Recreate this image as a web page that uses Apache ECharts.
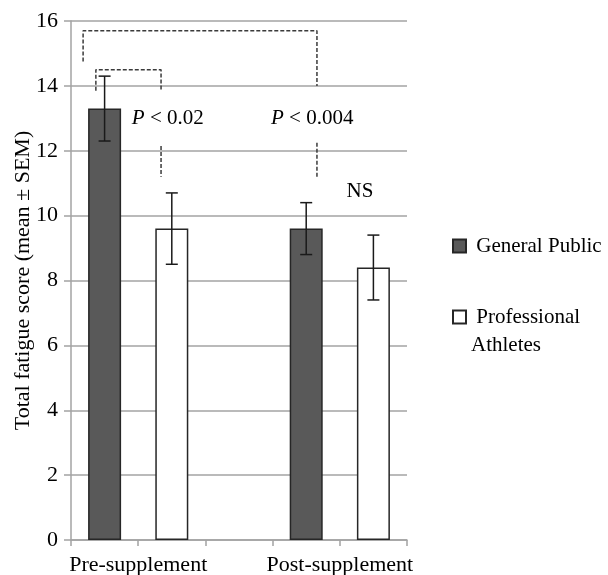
<!DOCTYPE html>
<html>
<head>
<meta charset="utf-8">
<script src="https://cdn.jsdelivr.net/npm/echarts@6/dist/echarts.min.js"></script>
<style>
html,body{margin:0;padding:0;background:#fff;}
#chart{width:608px;height:575px;}
</style>
</head>
<body>
<div id="chart"></div>
<script>
// ---- data ----
const categories = ['Pre-supplement', 'Post-supplement'];
const seriesNames = ['General Public', 'Professional Athletes'];
const generalPublic = [13.3, 9.6];
const generalPublicSEM = [1.0, 0.8];
const athletes = [9.6, 8.4];
const athletesSEM = [1.1, 1.0];
const yTicks = {min: 0, max: 16, interval: 2};
const yTitle = 'Total fatigue score (mean ± SEM)';
// significance brackets (x in slot units, y in score units)
const bracketLines = [
  [[0.18, 14.75], [0.18, 15.7], [3.66, 15.7], [3.66, 14.0]],
  [[0.37, 13.85], [0.37, 14.5], [1.34, 14.5], [1.34, 13.87]],
  [[1.34, 12.15], [1.34, 11.2]],
  [[3.66, 12.25], [3.66, 11.15]]
];
const annotations = [
  {text: '{i|P} < 0.02', x: 1.44, y: 12.98},
  {text: '{i|P} < 0.004', x: 3.59, y: 12.98},
  {text: 'NS', x: 4.3, y: 10.74}
];

// ---- layout: 5 slots (GP, PA, gap, GP, PA) ----
const slotCount = categories.length * 3 - 1;
const slots = Array.from({length: slotCount}, (_, i) => 's' + i);
const gpData = slots.map(() => '-');
const paData = slots.map(() => '-');
const errData = [];
categories.forEach((c, i) => {
  gpData[i * 3] = generalPublic[i];
  paData[i * 3 + 1] = athletes[i];
  errData.push([i * 3, generalPublic[i] - generalPublicSEM[i], generalPublic[i] + generalPublicSEM[i]]);
  errData.push([i * 3 + 1, athletes[i] - athletesSEM[i], athletes[i] + athletesSEM[i]]);
});
const labelAt = {};
categories.forEach((c, i) => { labelAt[i * 3 + 1] = c; });

const FONT = '"Liberation Serif", "Times New Roman", serif';
const gridColor = '#a3a3a3';
const textColor = '#000';

const chart = echarts.init(document.getElementById('chart'));

const bracketSeries = bracketLines.map(pts => ({
  type: 'line',
  xAxisIndex: 1,
  data: pts,
  symbol: 'none',
  silent: true,
  animation: false,
  lineStyle: {color: '#3a3a3a', width: 1.5, type: [4, 2]},
  z: 5
}));

chart.setOption({
  animation: false,
  backgroundColor: '#fff',
  grid: {left: 71, right: 201, top: 21, bottom: 35, containLabel: false, outerBoundsMode: 'none'},
  legend: [
    {
      data: [seriesNames[0]],
      left: 452, top: 232, padding: 0,
      icon: 'rect', itemWidth: 13, itemHeight: 13,
      formatter: n => ' ' + n,
      textStyle: {fontFamily: FONT, fontSize: 21, color: textColor, lineHeight: 28},
      selectedMode: false
    },
    {
      data: [seriesNames[1]],
      left: 452, top: 275, padding: 0,
      icon: 'rect', itemWidth: 13, itemHeight: 13,
      formatter: n => '\n Professional\nAthletes',
      textStyle: {fontFamily: FONT, fontSize: 21, color: textColor, lineHeight: 28},
      selectedMode: false
    }
  ],
  xAxis: [
    {
      type: 'category',
      data: slots,
      position: 'bottom',
      boundaryGap: true,
      axisLine: {lineStyle: {color: gridColor, width: 1.5}},
      axisTick: {show: true, interval: 0, length: 6, lineStyle: {color: gridColor, width: 1.5}},
      axisLabel: {show: false}
    },
    {
      type: 'value',
      min: 0, max: slotCount, interval: 1,
      position: 'bottom',
      axisLine: {show: false},
      axisTick: {show: false},
      splitLine: {show: false},
      axisLabel: {
        margin: 14,
        fontFamily: FONT, fontSize: 22, color: textColor,
        formatter: v => labelAt[v] || ''
      }
    }
  ],
  yAxis: {
    type: 'value',
    min: yTicks.min, max: yTicks.max, interval: yTicks.interval,
    name: yTitle,
    nameLocation: 'middle',
    nameGap: 37,
    nameMoveOverlap: false,
    nameTextStyle: {fontFamily: FONT, fontSize: 22, color: textColor},
    axisLine: {show: true, lineStyle: {color: gridColor, width: 1.5}},
    axisTick: {show: true, length: 7, lineStyle: {color: gridColor, width: 1.5}},
    axisLabel: {margin: 13, fontFamily: FONT, fontSize: 22, color: textColor},
    splitLine: {lineStyle: {color: gridColor, width: 1.5}}
  },
  series: [
    {
      name: seriesNames[0],
      type: 'bar',
      data: gpData,
      barWidth: 33,
      barGap: '-100%',
      itemStyle: {color: '#595959', borderColor: '#262626', borderWidth: 1.5},
      z: 3
    },
    {
      name: seriesNames[1],
      type: 'bar',
      data: paData,
      barWidth: 33,
      barGap: '-100%',
      itemStyle: {color: '#ffffff', borderColor: '#262626', borderWidth: 1.5},
      z: 3
    },
    {
      type: 'custom',
      data: errData,
      silent: true,
      z: 6,
      renderItem: function (params, api) {
        const x = api.value(0);
        const lo = api.coord([x, api.value(1)]);
        const hi = api.coord([x, api.value(2)]);
        const hw = 6;
        const style = {stroke: '#1a1a1a', lineWidth: 1.5};
        return {
          type: 'group',
          children: [
            {type: 'line', shape: {x1: lo[0], y1: lo[1], x2: hi[0], y2: hi[1]}, style},
            {type: 'line', shape: {x1: lo[0] - hw, y1: lo[1], x2: lo[0] + hw, y2: lo[1]}, style},
            {type: 'line', shape: {x1: hi[0] - hw, y1: hi[1], x2: hi[0] + hw, y2: hi[1]}, style}
          ]
        };
      },
      encode: {x: 0, y: [1, 2]}
    },
    ...bracketSeries,
    {
      type: 'scatter',
      xAxisIndex: 1,
      symbolSize: 0,
      silent: true,
      itemStyle: {opacity: 1},
      data: annotations.map(a => ({value: [a.x, a.y], name: a.text})),
      label: {
        show: true,
        position: 'inside',
        formatter: p => p.name,
        fontFamily: FONT, fontSize: 21, color: textColor,
        rich: {i: {fontFamily: FONT, fontSize: 21, fontStyle: 'italic', color: textColor}}
      },
      z: 7
    }
  ]
});
</script>
</body>
</html>
